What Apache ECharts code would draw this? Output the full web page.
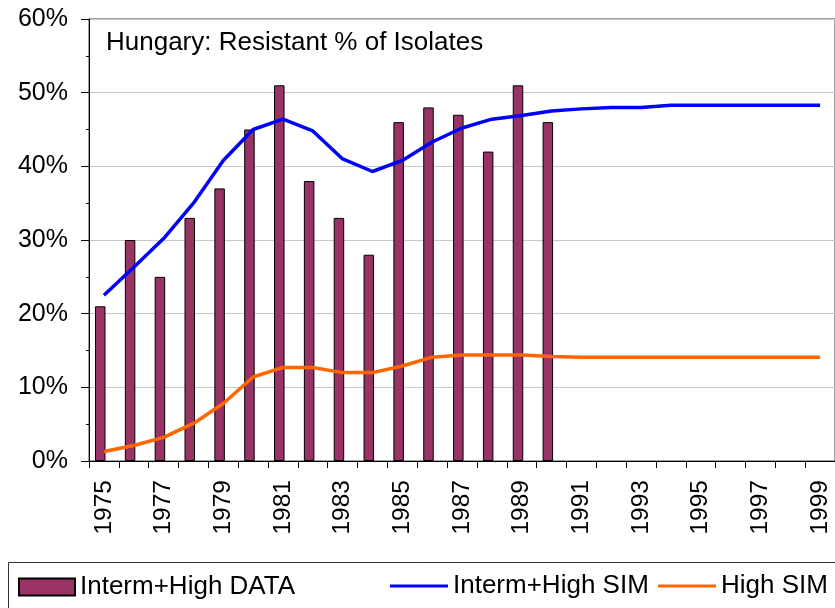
<!DOCTYPE html>
<html>
<head>
<meta charset="utf-8">
<script src="https://cdn.jsdelivr.net/npm/echarts@6/dist/echarts.min.js"></script>
<style>
html,body{margin:0;padding:0;background:#fff;}
#chart{width:835px;height:608px;}
</style>
</head>
<body>
<div id="chart"></div>
<script>
const years = ['1975','1976','1977','1978','1979','1980','1981','1982','1983','1984','1985','1986','1987','1988','1989','1990','1991','1992','1993','1994','1995','1996','1997','1998','1999'];
const intermHighData = [21,30,25,33,37,45,51,38,33,28,46,48,47,42,51,46,null,null,null,null,null,null,null,null,null];
const intermHighSim = [22.5,26.3,30.2,35.0,40.8,45.0,46.4,44.8,41.0,39.3,40.8,43.3,45.2,46.4,46.9,47.5,47.8,48.0,48.0,48.3,48.3,48.3,48.3,48.3,48.3];
const highSim = [1.3,2.1,3.2,5.1,7.8,11.4,12.7,12.7,12.0,12.0,12.9,14.1,14.4,14.4,14.4,14.2,14.1,14.1,14.1,14.1,14.1,14.1,14.1,14.1,14.1];
const yTicks = [0,10,20,30,40,50,60];
const chartTitle = 'Hungary: Resistant % of Isolates';

const FONT = '"Liberation Sans", Arial, sans-serif';
const chart = echarts.init(document.getElementById('chart'), null, {renderer:'canvas'});
const legendText = {fontFamily: FONT, fontSize: 26, color: '#000'};
chart.setOption({
  animation: false,
  backgroundColor: '#fff',
  grid: {left: 89, top: 19, right: -4, bottom: 147, show: true, borderColor: '#444', borderWidth: 1, backgroundColor: 'transparent'},
  graphic: [
    {type: 'text', left: 106, top: 30, style: {text: chartTitle, font: '26px ' + FONT, fill: '#000'}},
    {type: 'rect', shape: {x: 8.5, y: 562.5, width: 840, height: 60}, style: {fill: 'none', stroke: '#333', lineWidth: 1}}
  ],
  legend: [
    {left: 18, top: 574, padding: 0, itemWidth: 56, itemHeight: 17, itemGap: 6, icon: 'rect',
     data: ['Interm+High DATA'], textStyle: legendText},
    {left: 390, top: 573, padding: 0, itemWidth: 58, itemHeight: 3, icon: 'rect',
     data: ['Interm+High SIM'], textStyle: legendText},
    {left: 658, top: 573, padding: 0, itemWidth: 58, itemHeight: 3, icon: 'rect',
     data: ['High SIM'], textStyle: legendText}
  ],
  xAxis: {
    type: 'category', data: years, boundaryGap: true,
    axisLine: {lineStyle: {color: '#000', width: 1}},
    axisTick: {show: true, interval: 0, length: 7, lineStyle: {color: '#000'}},
    axisLabel: {interval: 1, rotate: 90, margin: 19, fontFamily: FONT, fontSize: 24.5, color: '#000'},
    splitLine: {show: false}
  },
  yAxis: {
    type: 'value', min: yTicks[0], max: yTicks[yTicks.length-1], interval: 10,
    axisLine: {show: true, lineStyle: {color: '#000', width: 1}},
    axisTick: {show: true, length: 8, lineStyle: {color: '#000'}},
    minorTick: {show: true, splitNumber: 2, length: 3, lineStyle: {color: '#000'}},
    axisLabel: {formatter: '{value}%', margin: 21, fontFamily: FONT, fontSize: 25, color: '#000'},
    splitLine: {show: true, lineStyle: {color: '#c8c8c8', width: 1}}
  },
  series: [
    {name: 'Interm+High DATA', type: 'bar', data: intermHighData, barWidth: 10.5, barGap: '-30%',
     itemStyle: {color: '#993366', borderColor: '#000', borderWidth: 1}, z: 2},
    {name: 'spacer', type: 'bar', data: years.map(() => '-'), barWidth: 10.5},
    {name: 'Interm+High SIM', type: 'line', data: intermHighSim, symbol: 'none', showSymbol: false,
     lineStyle: {color: '#0000ff', width: 3.5}, itemStyle: {color: '#0000ff'}, z: 4},
    {name: 'High SIM', type: 'line', data: highSim, symbol: 'none', showSymbol: false,
     lineStyle: {color: '#ff6600', width: 3.5}, itemStyle: {color: '#ff6600'}, z: 3}
  ]
});
</script>
</body>
</html>
